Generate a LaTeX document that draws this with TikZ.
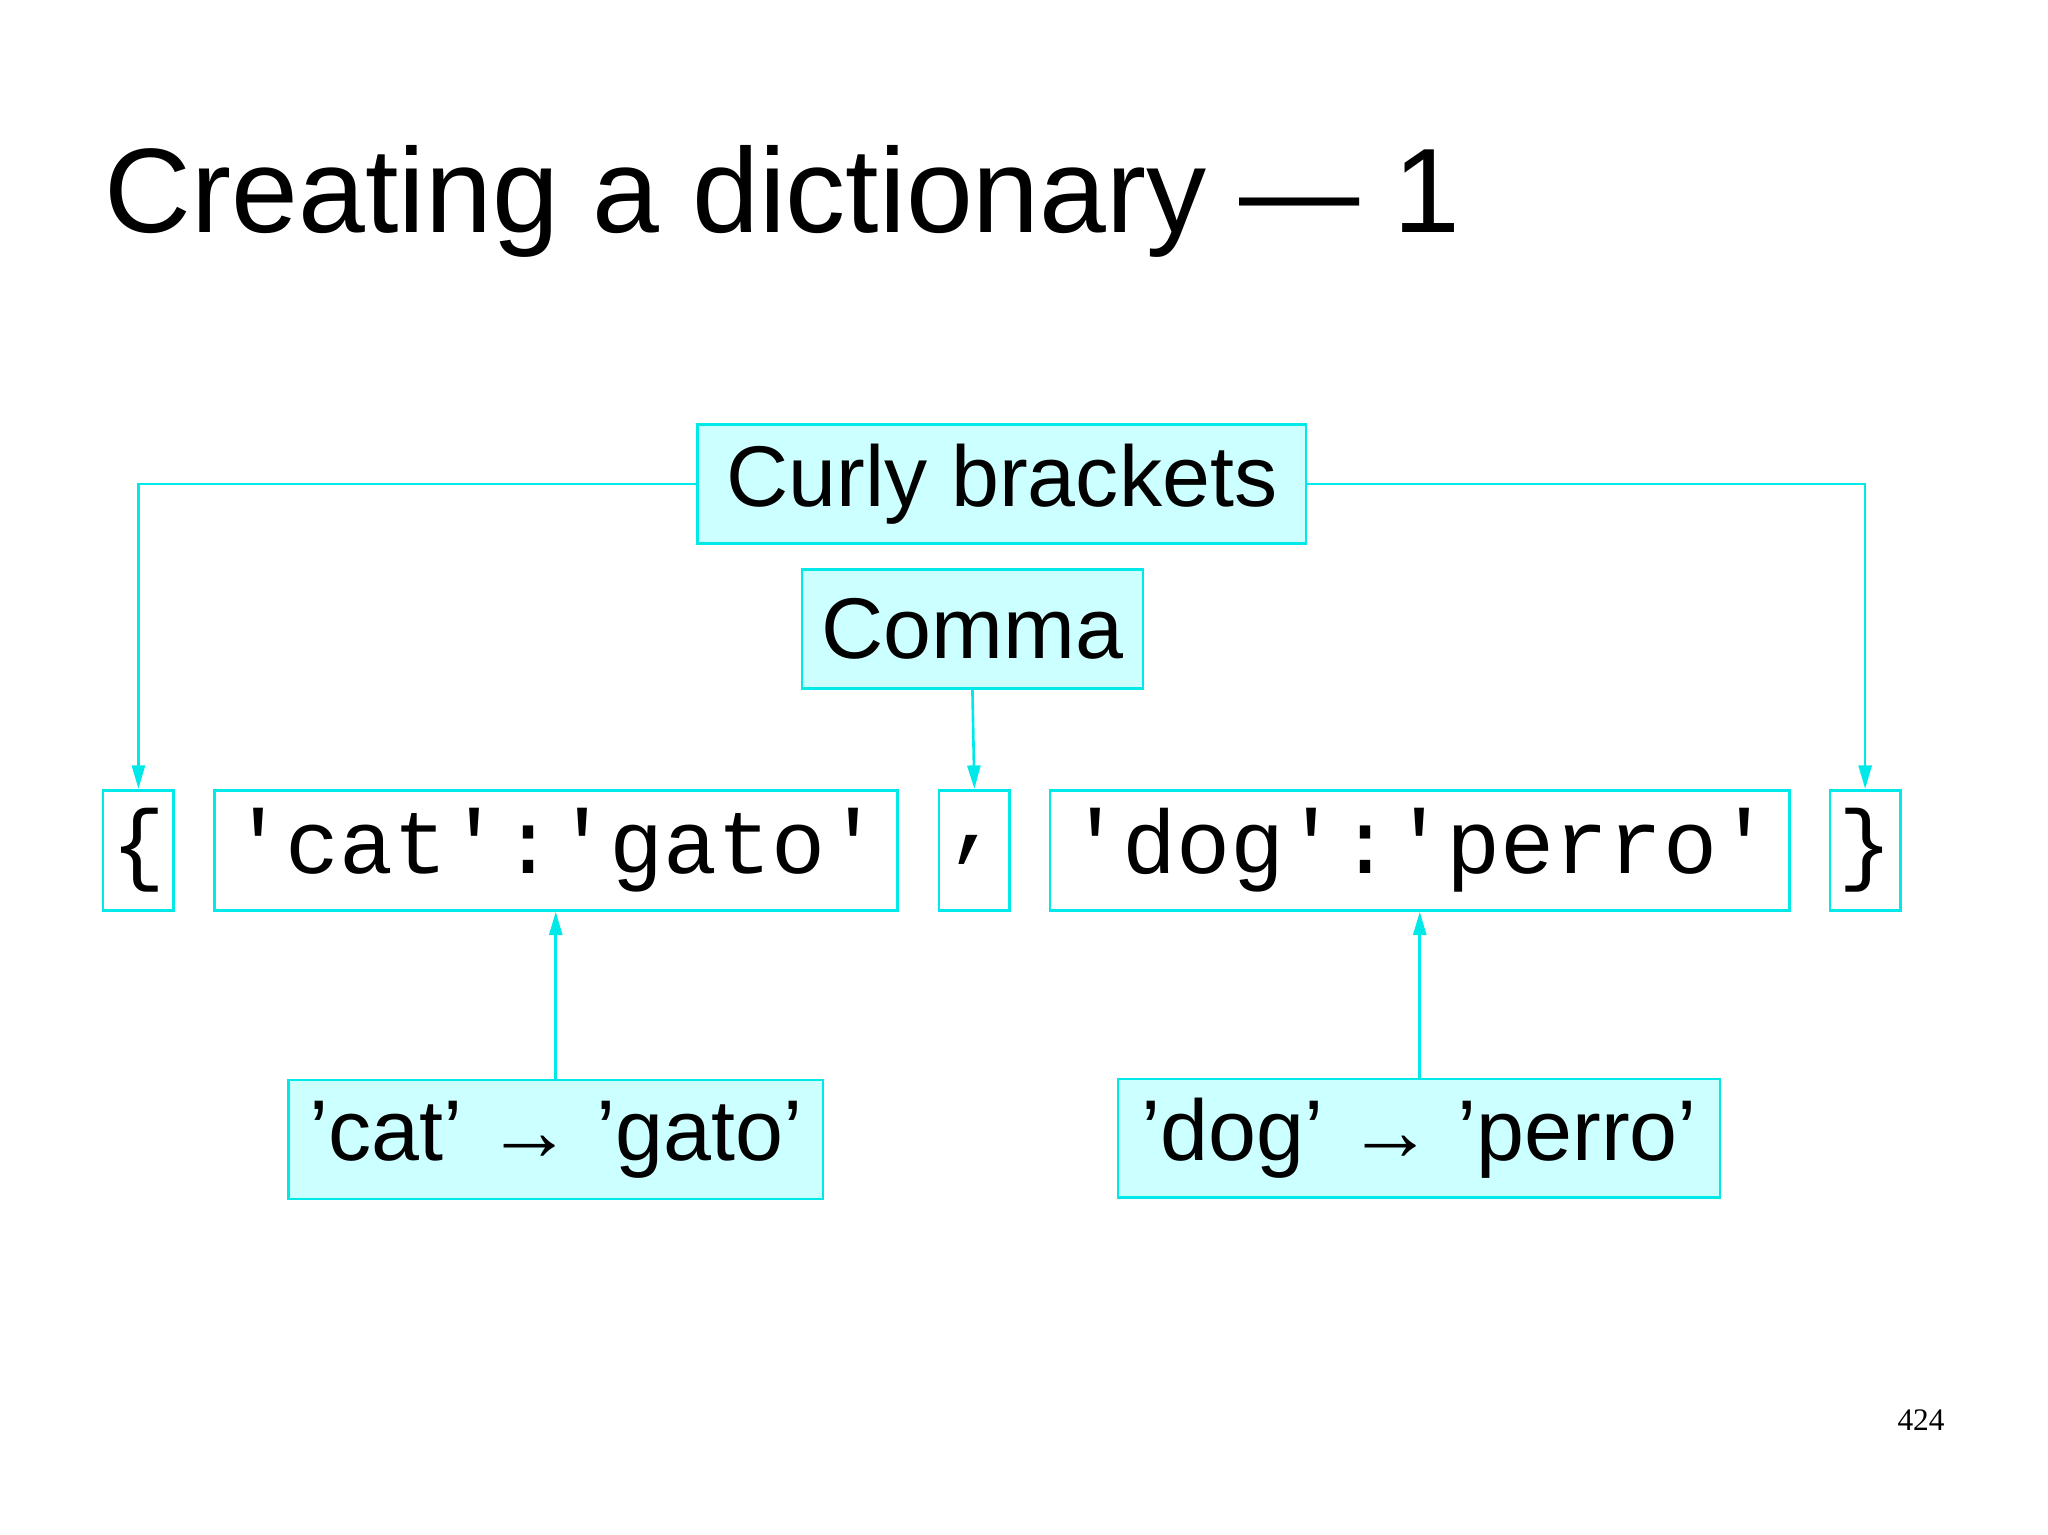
\documentclass[tikz,border=0pt]{standalone}
\usepackage{fontspec}
\setmainfont{Liberation Sans}
\setmonofont{Liberation Mono}
\newfontfamily\serifnum{Liberation Serif}
\usetikzlibrary{arrows.meta}
\definecolor{cy}{RGB}{0,232,232}
\definecolor{cyfill}{RGB}{204,255,255}
\tikzset{
 lab/.style={draw=cy,fill=cyfill,line width=2pt,inner sep=0pt,font=\fontsize{66}{70}\selectfont,anchor=north west},
 code/.style={draw=cy,fill=white,line width=2pt,inner sep=0pt,font=\ttfamily\fontsize{69}{70}\selectfont,anchor=north west},
 arr/.style={draw=cy,line width=2pt,-{Triangle[length=18pt,width=10pt]}}
}
\begin{document}
\begin{tikzpicture}[x=1pt,y=-1pt]
\useasboundingbox (0,0) rectangle (1568,1175);
\node[anchor=base west,font=\fontsize{92}{96}\selectfont,inner sep=0pt] (title) at (80,178) {Creating a dictionary — 1};
\node[lab,minimum width=466pt,minimum height=91pt] (curly) at (533,324) {Curly brackets};
\node[lab,minimum width=261pt,minimum height=91pt] (comma) at (613,435) {Comma};
\node[code,minimum width=54pt,minimum height=92pt] (lb) at (78,604) {\{};
\node[code,minimum width=523pt,minimum height=92pt] (cat) at (163,604) {'cat':'gato'};
\node[code,minimum width=54pt,minimum height=92pt] (cm) at (718,604) {,};
\node[code,minimum width=566pt,minimum height=92pt] (dog) at (803,604) {'dog':'perro'};
\node[code,minimum width=54pt,minimum height=92pt] (rb) at (1400,604) {\}};
\node[lab,minimum width=409pt,minimum height=91pt] (catl) at (220,826) {'cat' → 'gato'};
\node[lab,minimum width=461pt,minimum height=91pt] (dogl) at (855,825) {'dog' → 'perro'};
\node[anchor=base east,font=\serifnum\fontsize{24}{26}\selectfont,inner sep=0pt] (pg) at (1489,1095) {424};
\draw[arr] (curly.west) -| (lb.north);
\draw[arr] (curly.east) -| (rb.north);
\draw[arr] (comma.south) -- (cm.north);
\draw[arr] (catl.north -| cat.south) -- (cat.south);
\draw[arr] (dogl.north -| dog.south) -- (dog.south);
\end{tikzpicture}
\end{document}
